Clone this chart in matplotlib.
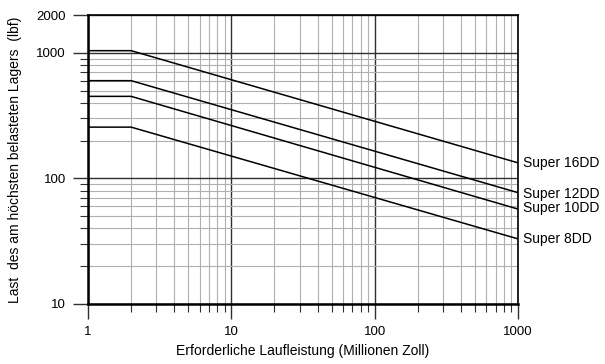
import matplotlib
matplotlib.use("Agg")
import matplotlib.pyplot as plt
from matplotlib.ticker import LogLocator, NullFormatter, FixedLocator, FixedFormatter

plt.rcParams['font.family'] = ['Liberation Sans', 'DejaVu Sans']

# data (flat load up to 2 million inches, then falling)
travel = [1, 2, 1000]
series_names = ["Super 16DD", "Super 12DD", "Super 10DD", "Super 8DD"]
loads = {
    "Super 16DD": [1040, 1040, 133],
    "Super 12DD": [600, 600, 77],
    "Super 10DD": [450, 450, 57],
    "Super 8DD": [256, 256, 33],
}
y_ticks = [10, 100, 1000, 2000]
y_tick_labels = ["10", "100", "1000", "2000"]
x_ticks = [1, 10, 100, 1000]
x_tick_labels = ["1", "10", "100", "1000"]
label_y = {"Super 16DD": 133, "Super 12DD": 75, "Super 10DD": 58, "Super 8DD": 33}

fig = plt.figure(figsize=(6.05, 3.64), dpi=100)
ax = fig.add_axes([88 / 605, 1 - 304 / 364, 430 / 605, 289 / 364])
ax.set_xscale("log")
ax.set_yscale("log")
ax.set_xlim(1, 1000)
ax.set_ylim(10, 2000)

# grid
ax.grid(True, which="minor", color="#b0b0b0", lw=0.8)
ax.grid(True, which="major", color="#303030", lw=1.0)
ax.set_axisbelow(True)

for name in series_names:
    ax.plot(travel, loads[name], color="black", lw=1.1)
    ax.text(1075, label_y[name], name, fontsize=10, va="center", ha="left",
            clip_on=False)

ax.yaxis.set_major_locator(FixedLocator(y_ticks))
ax.yaxis.set_major_formatter(FixedFormatter(y_tick_labels))
ax.yaxis.set_minor_locator(LogLocator(base=10, subs=range(2, 10)))
ax.yaxis.set_minor_formatter(NullFormatter())
ax.xaxis.set_major_locator(FixedLocator(x_ticks))
ax.xaxis.set_major_formatter(FixedFormatter(x_tick_labels))
ax.xaxis.set_minor_locator(LogLocator(base=10, subs=range(2, 10)))
ax.xaxis.set_minor_formatter(NullFormatter())

ax.tick_params(which="major", length=11, width=1.0, color="#303030",
               labelsize=9.5, pad=5)
ax.tick_params(which="minor", length=6, width=0.8, color="#303030")

for side in ["left", "bottom"]:
    ax.spines[side].set_linewidth(1.8)
for side in ["top", "right"]:
    ax.spines[side].set_linewidth(1.2)

ax.set_xlabel("Erforderliche Laufleistung (Millionen Zoll)", fontsize=10,
              labelpad=4)
ax.set_ylabel("Last  des am höchsten belasteten Lagers  (lbf)", fontsize=10,
              labelpad=10)

fig.savefig("out.png", dpi=100)
